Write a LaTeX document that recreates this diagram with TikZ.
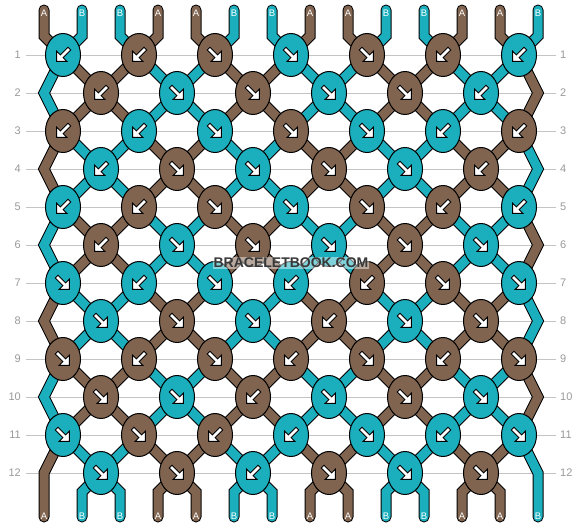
\documentclass[tikz,border=0pt]{standalone}
\usepackage{fontspec}
\setmainfont{Liberation Sans}
\usetikzlibrary{shapes.geometric}

\definecolor{thread0}{HTML}{80644F}
\definecolor{thread1}{HTML}{1BAFBE}
\definecolor{guidegray}{HTML}{C4C4C4}
\definecolor{labelgray}{HTML}{999999}
\definecolor{markgray}{HTML}{383838}

\pgfdeclarelayer{guides}
\pgfdeclarelayer{threads}
\pgfsetlayers{guides,threads,main}

\begin{document}
\begin{tikzpicture}[
        x = 1pt, y = -1pt, % pixel grid, y pointing down
        knot/.style = {ellipse, draw = black, line width = 1pt,
            minimum width = 35pt, minimum height = 43pt, inner sep = 0pt},
        thread/.style = {draw = black, line width = 1pt, double = thread#1,
            double distance = 9pt, line cap = round, line join = miter},
        arrowbody/.style = {fill = white, draw = black, line width = 0.9pt, line join = miter},
        fwd/.style = {rotate = -45},
        bwd/.style = {rotate = -135},
        twist/.pic = {\filldraw[arrowbody, scale = 1.2] (-7.5,-1.6) -- (1.5,-1.6) -- (1.5,-6)
            -- (7.5,0) -- (1.5,6) -- (1.5,1.6) -- (-7.5,1.6) -- cycle;},
        rownum/.style = {text = labelgray, font = \fontsize{11}{11}\selectfont, inner sep = 0pt},
        letter/.style = {text = white, font = \fontsize{9.5}{9.5}\selectfont, inner sep = 0pt},
        guide/.style = {draw = guidegray, line width = 1pt}
    ]
    \useasboundingbox (0,0) rectangle (582,528);

    % thread ends
    \foreach \p in {1,...,14} {
        \pgfmathtruncatemacro\xx{38*\p+6}
        \coordinate (t\p) at (\xx,10);
        \coordinate (tb\p) at (\xx,36);
        \coordinate (bb\p) at (\xx,492);
        \coordinate (b\p) at (\xx,517);
    }
    % side bends
    \foreach \r in {2,4,...,12} {
        \coordinate (sl\r) at (44,38*\r+17);
        \coordinate (sr\r) at (538,38*\r+17);
    }

    % row numbers
    \foreach \r in {1,...,12} {
        \node[rownum, anchor = east] (ll\r) at (21,38*\r+17) {\r};
        \node[rownum, anchor = west] (lr\r) at (560,38*\r+17) {\r};
        \begin{pgfonlayer}{guides}
            \draw[guide] ([xshift = 5pt]ll\r.east) -- ([xshift = -4pt]lr\r.west);
        \end{pgfonlayer}
    }

    % knots
    \foreach \r/\row in {
            1/{1/bwd,0/bwd,0/fwd,1/fwd,0/fwd,0/bwd,1/bwd},
            2/{0/bwd,1/fwd,0/fwd,1/fwd,0/fwd,1/bwd},
            3/{0/bwd,1/bwd,1/fwd,0/fwd,1/fwd,1/bwd,0/bwd},
            4/{1/bwd,0/fwd,1/fwd,0/fwd,1/fwd,0/bwd},
            5/{1/bwd,0/bwd,0/fwd,1/fwd,0/fwd,0/bwd,1/bwd},
            6/{0/bwd,1/fwd,0/fwd,1/fwd,0/fwd,1/fwd},
            7/{1/fwd,1/bwd,1/fwd,1/bwd,0/bwd,0/fwd,1/fwd},
            8/{1/fwd,0/fwd,1/fwd,0/bwd,1/fwd,0/fwd},
            9/{0/fwd,0/bwd,0/fwd,0/bwd,0/fwd,0/bwd,0/fwd},
            10/{0/fwd,1/fwd,0/bwd,1/fwd,0/fwd,1/fwd},
            11/{1/fwd,0/fwd,0/bwd,1/bwd,1/fwd,1/bwd,1/fwd},
            12/{1/fwd,0/fwd,1/bwd,0/fwd,1/fwd,0/fwd}} {
        \foreach \cl/\tw [count=\kk] in \row {
            \pgfmathtruncatemacro\xx{isodd(\r) ? 76*\kk-13 : 76*\kk+25}
            \node[knot, fill = thread\cl] (n\r-\kk) at (\xx,38*\r+17) {};
            \pic[\tw] at (n\r-\kk) {twist};
        }
    }

    \begin{pgfonlayer}{threads}
        % into the first row
        \foreach \k in {1,...,7} {
            \pgfmathtruncatemacro\pl{2*\k-1}
            \pgfmathtruncatemacro\pr{2*\k}
            \pgfmathtruncatemacro\lc{mod(\k+1,2)}
            \pgfmathtruncatemacro\rc{1-\lc}
            \draw[thread = \lc] (t\pl) -- (tb\pl) -- (n1-\k.center);
            \draw[thread = \rc] (t\pr) -- (tb\pr) -- (n1-\k.center);
        }
        % odd rows down
        \foreach \r/\s in {1/0,3/1,5/0,7/1,9/0,11/1} {
            \pgfmathtruncatemacro\ra{\r+1}
            \foreach \k in {1,...,7} {
                \pgfmathtruncatemacro\lc{mod(\k+\s,2)}
                \pgfmathtruncatemacro\rc{1-\lc}
                \pgfmathtruncatemacro\km{\k-1}
                \ifnum\k>1 \draw[thread = \lc] (n\r-\k.center) -- (n\ra-\km.center); \fi
                \ifnum\k<7 \draw[thread = \rc] (n\r-\k.center) -- (n\ra-\k.center); \fi
            }
        }
        % edges
        \foreach \r/\s in {1/0,3/1,5/0,7/1,9/0} {
            \pgfmathtruncatemacro\ra{\r+1}
            \pgfmathtruncatemacro\rb{\r+2}
            \pgfmathtruncatemacro\lc{mod(1+\s,2)}
            \pgfmathtruncatemacro\rc{1-mod(7+\s,2)}
            \draw[thread = \lc] (n\r-1.center) -- (sl\ra) -- (n\rb-1.center);
            \draw[thread = \rc] (n\r-7.center) -- (sr\ra) -- (n\rb-7.center);
        }
        \draw[thread = 0] (n11-1.center) -- (sl12) -- (b1);
        \draw[thread = 1] (n11-7.center) -- (sr12) -- (b14);
        % even rows down
        \foreach \r/\s in {2/0,4/1,6/0,8/1,10/0} {
            \pgfmathtruncatemacro\ra{\r+1}
            \foreach \j in {1,...,6} {
                \pgfmathtruncatemacro\cl{mod(\j+\s+1,2)}
                \pgfmathtruncatemacro\jp{\j+1}
                \draw[thread = \cl] (n\r-\j.center) -- (n\ra-\j.center);
                \draw[thread = \cl] (n\r-\j.center) -- (n\ra-\jp.center);
            }
        }
        % out of the last row
        \foreach \j in {1,...,6} {
            \pgfmathtruncatemacro\cl{mod(\j,2)}
            \pgfmathtruncatemacro\pl{2*\j}
            \pgfmathtruncatemacro\pr{2*\j+1}
            \draw[thread = \cl] (n12-\j.center) -- (bb\pl) -- (b\pl);
            \draw[thread = \cl] (n12-\j.center) -- (bb\pr) -- (b\pr);
        }
    \end{pgfonlayer}

    % thread letters
    \foreach \l [count=\p] in {A,B,B,A,A,B,B,A,A,B,B,A,A,B} {
        \node[letter] (lt\p) at (38*\p+6,13) {\l};
        \node[letter] (lb\p) at (38*\p+6,516.5) {\l};
    }

    \node[text = markgray, fill = white, fill opacity = 0.45, text opacity = 1,
        inner sep = 1pt, font = \bfseries\fontsize{14}{14}\selectfont] (mark) at (291,263)
        {BRACELETBOOK.COM};
\end{tikzpicture}
\end{document}
